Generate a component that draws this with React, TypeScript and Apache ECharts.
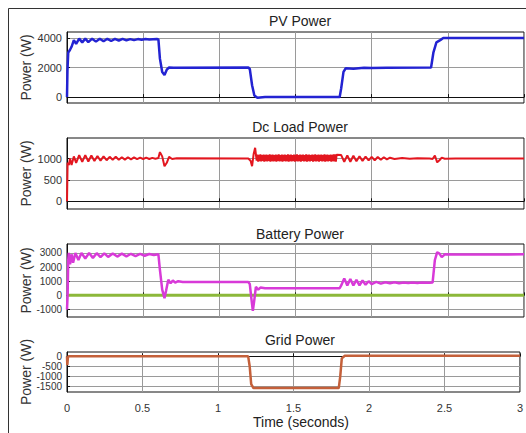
import React, { useEffect, useRef } from "react";
import * as echarts from "echarts";

const titles = ["PV Power", "Dc Load Power", "Battery Power", "Grid Power"];
const xTicks = [0, 0.5, 1, 1.5, 2, 2.5, 3];
const yTicks1 = [0, 2000, 4000];
const yTicks2 = [0, 500, 1000];
const yTicks3 = [-1000, 0, 1000, 2000, 3000];
const yTicks4 = [-1500, -1000, -500, 0];

const pvPower: [number, number][] = [
  [0, 0], [0.003, 1800], [0.008, 3000], [0.02, 3200], [0.03, 3400], [0.045, 3850], [0.06, 3600],
  [0.08, 3950], [0.1, 3700], [0.12, 3950], [0.14, 3720], [0.165, 3950], [0.19, 3750], [0.215, 3950],
  [0.24, 3770], [0.265, 3940], [0.29, 3790], [0.315, 3930], [0.34, 3810], [0.365, 3930], [0.39, 3830],
  [0.415, 3920], [0.44, 3850], [0.465, 3920], [0.49, 3870], [0.515, 3920], [0.54, 3890], [0.59, 3930],
  [0.6, 3900], [0.61, 2600], [0.625, 1700], [0.64, 1500], [0.655, 1850], [0.67, 2000], [0.7, 1980],
  [1.19, 2000], [1.2, 1900], [1.215, 800], [1.23, 100], [1.25, -50], [1.3, 0], [1.79, 0], [1.8, 600],
  [1.815, 1700], [1.83, 1950], [1.88, 1920], [1.95, 1980], [2.0, 1960], [2.1, 1990], [2.39, 2000],
  [2.405, 3000], [2.425, 3700], [2.45, 3850], [2.47, 4000], [3, 4000],
];

const loadPowerStart: [number, number][] = [
  [0, 0], [0.004, 900], [0.012, 850], [0.02, 1000], [0.03, 850], [0.045, 1050], [0.06, 900],
  [0.08, 1080], [0.1, 920], [0.12, 1080], [0.14, 930], [0.16, 1070], [0.18, 940], [0.2, 1060],
  [0.22, 950], [0.24, 1050], [0.26, 960], [0.28, 1040], [0.3, 970], [0.32, 1040], [0.34, 970],
  [0.36, 1030], [0.38, 975], [0.4, 1030], [0.42, 980], [0.44, 1025], [0.46, 985], [0.48, 1020],
  [0.5, 990], [0.52, 1020], [0.54, 990], [0.56, 1015], [0.58, 995], [0.6, 1010], [0.61, 1150],
  [0.625, 1050], [0.64, 820], [0.655, 900], [0.67, 1040], [0.69, 990], [0.72, 1005], [1.19, 1000],
  [1.205, 950], [1.215, 820], [1.225, 1100], [1.235, 1250], [1.245, 950],
];
// dense ripple between 1.25 s and 1.79 s, one value every 5 ms
const loadNoise: number[] = [
  1090, 930, 1085, 940, 1095, 935, 1080, 945, 1090, 930, 1085, 940, 1090, 935, 1080, 945,
  1095, 930, 1085, 940, 1090, 935, 1080, 940, 1090, 930, 1085, 945, 1095, 935, 1080, 940,
  1090, 930, 1085, 945, 1090, 935, 1080, 940, 1095, 930, 1085, 940, 1090, 935, 1080, 945,
  1090, 930, 1085, 940, 1095, 935, 1080, 940, 1090, 930, 1085, 945, 1090, 935, 1080, 940,
  1095, 930, 1085, 940, 1090, 935, 1080, 945, 1090, 930, 1085, 940, 1095, 935, 1080, 940,
  1090, 930, 1085, 945, 1090, 935, 1080, 940, 1095, 930, 1085, 940, 1090, 935, 1080, 945,
  1090, 930, 1085, 940, 1095, 935, 1100, 930, 1090,
];
const loadPowerEnd: [number, number][] = [
  [1.8, 1080], [1.82, 920], [1.84, 1075], [1.86, 925], [1.88, 1065], [1.9, 935], [1.92, 1055],
  [1.94, 945], [1.96, 1045], [1.98, 955], [2.0, 1040], [2.02, 960], [2.04, 1035], [2.06, 970],
  [2.08, 1030], [2.1, 980], [2.12, 1020], [2.15, 990], [2.2, 1010], [2.25, 995], [2.3, 1005],
  [2.38, 1000], [2.4, 990], [2.415, 1070], [2.43, 910], [2.445, 960], [2.46, 1020], [2.48, 995],
  [2.55, 1000], [3, 1000],
];

const batteryPower: [number, number][] = [
  [0, -1000], [0.004, 0], [0.008, 2500], [0.012, 3000], [0.02, 2200], [0.03, 2900], [0.04, 2300],
  [0.055, 3000], [0.075, 2500], [0.095, 3000], [0.12, 2600], [0.145, 3000], [0.17, 2650],
  [0.195, 2980], [0.22, 2700], [0.245, 2970], [0.27, 2720], [0.3, 2960], [0.33, 2740], [0.36, 2950],
  [0.39, 2760], [0.42, 2940], [0.45, 2780], [0.48, 2930], [0.51, 2800], [0.54, 2920], [0.57, 2850],
  [0.6, 2900], [0.61, 1800], [0.625, 400], [0.64, -200], [0.65, 300], [0.665, 1100], [0.68, 850],
  [0.695, 1050], [0.71, 900], [0.73, 1000], [0.76, 950], [1.19, 950], [1.2, 800], [1.21, -200],
  [1.22, -1100], [1.23, -300], [1.24, 600], [1.255, 400], [1.27, 550], [1.3, 500], [1.79, 500],
  [1.8, 700], [1.82, 1200], [1.84, 700], [1.86, 1150], [1.88, 700], [1.9, 1100], [1.92, 700],
  [1.94, 1050], [1.96, 750], [1.98, 1000], [2.0, 800], [2.03, 950], [2.06, 830], [2.09, 930],
  [2.12, 850], [2.15, 920], [2.18, 860], [2.21, 910], [2.24, 870], [2.27, 905], [2.3, 880],
  [2.33, 900], [2.38, 890], [2.4, 900], [2.415, 2500], [2.43, 3050], [2.445, 2950], [2.46, 2700],
  [2.48, 2900], [2.55, 2880], [3, 2900],
];
const batteryRef: [number, number][] = [[0, 0], [3, 0]];

const gridPower: [number, number][] = [
  [0, 0], [0.002, -450], [0.006, -50], [0.01, 0], [1.2, 0], [1.21, -500], [1.22, -1400],
  [1.235, -1600], [1.8, -1600], [1.81, -1000], [1.82, -100], [1.84, 30], [3, 30],
];

function buildLoad(): [number, number][] {
  const out: [number, number][] = loadPowerStart.slice();
  loadNoise.forEach((v, i) => out.push([1.25 + i * 0.005, v]));
  return out.concat(loadPowerEnd);
}

const FONT = "Liberation Sans";

export default function App() {
  const ref = useRef<HTMLDivElement>(null);
  useEffect(() => {
    if (!ref.current) return;
    const chart = echarts.init(ref.current, undefined, { renderer: "svg" });
    const grids = [
      { top: 32, height: 71 },
      { top: 138, height: 71 },
      { top: 244, height: 73 },
      { top: 352, height: 40 },
    ];
    const yCfg = [
      { min: -400, max: 4400, ticks: yTicks1, fs: 11 },
      { min: -180, max: 1480, ticks: yTicks2, fs: 11 },
      { min: -1530, max: 3630, ticks: yTicks3, fs: 10 },
      { min: -1800, max: 220, ticks: yTicks4, fs: 10 },
    ];
    const gridLineColor = "#9a9a9a";
    const titleStyle = { fontFamily: FONT, fontSize: 14, fontWeight: "normal", color: "#222" };
    const option: any = {
      animation: false,
      backgroundColor: "#ffffff",
      textStyle: { fontFamily: FONT },
      title: titles.map((t, i) => ({
        text: t,
        left: 295,
        textAlign: "center",
        top: [9, 115, 222, 328][i],
        textStyle: titleStyle,
      })).concat([{
        text: "Time (seconds)",
        left: 296,
        textAlign: "center",
        top: 410,
        textStyle: titleStyle,
      } as any]),
      graphic: [
        {
          type: "rect",
          shape: { x: 8.5, y: 8.5, width: 540, height: 450 },
          style: { fill: "none", stroke: "#333", lineWidth: 1 },
          silent: true,
          z: 100,
        },
      ],
      grid: grids.map((g) => ({
        left: 67,
        right: 2,
        top: g.top,
        height: g.height,
        show: true,
        borderColor: "#111",
        borderWidth: 1,
        backgroundColor: "#fff",
      })),
      xAxis: grids.map((_, i) => ({
        type: "value",
        gridIndex: i,
        min: 0,
        max: 3,
        interval: 0.5,
        axisLine: { show: true, lineStyle: { color: "#111" } },
        axisTick: { show: true, inside: true, length: 3, lineStyle: { color: "#111" } },
        axisLabel: {
          show: i === 3,
          fontFamily: FONT,
          fontSize: 11,
          color: "#333",
          margin: 10,
          customValues: xTicks,
          formatter: (v: number) => String(v),
          showMaxLabel: true,
        },
        splitLine: { show: true, lineStyle: { color: gridLineColor, width: 1 } },
      })),
      yAxis: yCfg.map((c, i) => ({
        type: "value",
        gridIndex: i,
        min: c.min,
        max: c.max,
        name: "Power (W)",
        nameLocation: "middle",
        nameRotate: 90,
        nameGap: 34,
        nameMoveOverlap: false,
        nameTextStyle: { fontFamily: FONT, fontSize: 14, color: "#333" },
        axisLine: { show: true, lineStyle: { color: "#111" } },
        axisTick: { show: true, inside: true, length: 3, customValues: c.ticks, lineStyle: { color: "#111" } },
        axisLabel: {
          show: true,
          customValues: c.ticks,
          fontFamily: FONT,
          fontSize: c.fs,
          color: "#333",
          margin: 5,
          formatter: (v: number) => String(v),
          showMinLabel: true,
          showMaxLabel: true,
        },
        splitLine: { show: true, lineStyle: { color: gridLineColor, width: 1 } },
      })),
      series: [
        {
          type: "line", xAxisIndex: 0, yAxisIndex: 0, data: pvPower, showSymbol: false,
          lineStyle: { color: "#2323d2", width: 2.5 }, z: 3,
        },
        {
          type: "line", xAxisIndex: 1, yAxisIndex: 1, data: buildLoad(), showSymbol: false,
          lineStyle: { color: "#e3161f", width: 2 }, z: 3,
        },
        {
          type: "line", xAxisIndex: 2, yAxisIndex: 2, data: batteryRef, showSymbol: false,
          lineStyle: { color: "#8cb83a", width: 3 }, z: 3,
        },
        {
          type: "line", xAxisIndex: 2, yAxisIndex: 2, data: batteryPower, showSymbol: false,
          lineStyle: { color: "#d83ad8", width: 2.5 }, z: 4,
        },
        {
          type: "line", xAxisIndex: 3, yAxisIndex: 3, data: gridPower, showSymbol: false,
          lineStyle: { color: "#c4603a", width: 2.5 }, z: 3,
        },
      ],
    };
    chart.setOption(option);
    return () => chart.dispose();
  }, []);
  return (
    <div
      ref={ref}
      style={{ position: "fixed", left: 0, top: 0, width: 526, height: 433, background: "#fff" }}
    />
  );
}
